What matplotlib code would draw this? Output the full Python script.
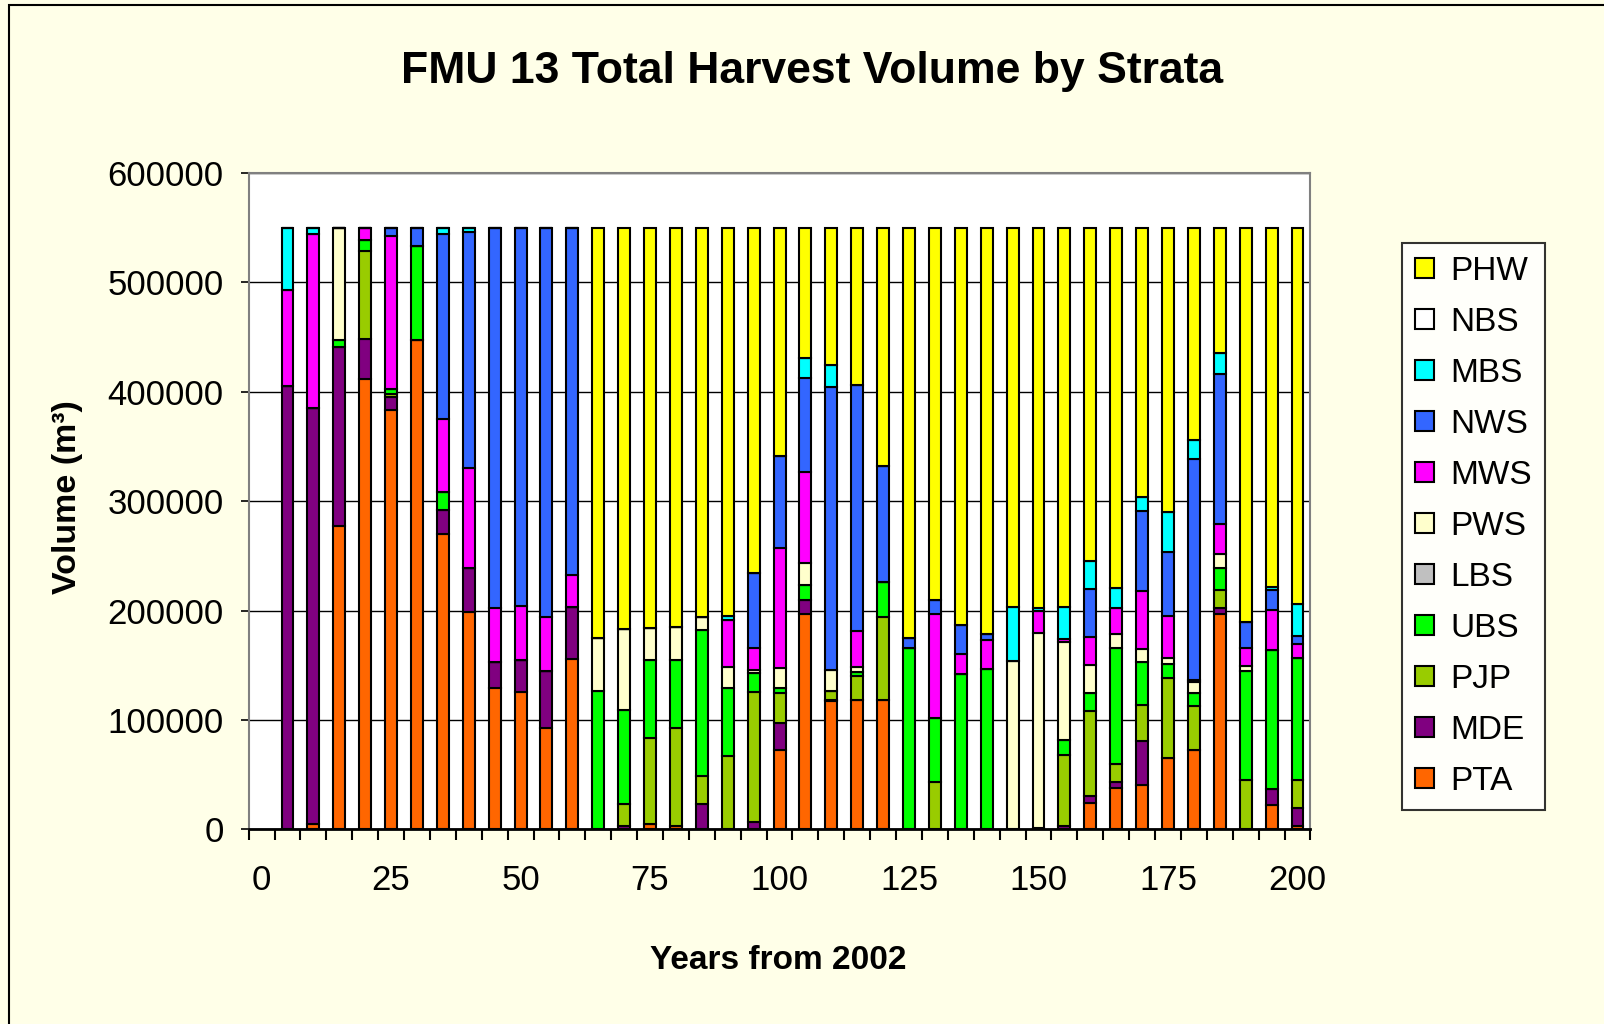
import matplotlib
matplotlib.use("Agg")
import matplotlib.pyplot as plt
from matplotlib.patches import Patch, Rectangle
import numpy as np

plt.rcParams['font.family'] = ['Liberation Sans', 'DejaVu Sans']

years = [5, 10, 15, 20, 25, 30, 35, 40, 45, 50, 55, 60, 65, 70, 75, 80, 85, 90, 95, 100,
         105, 110, 115, 120, 125, 130, 135, 140, 145, 150, 155, 160, 165, 170, 175, 180, 185, 190, 195, 200]

PTA = [0, 5000, 277000, 412000, 383000, 447000, 270000, 199000, 129000, 126000, 93000, 156000, 0, 0, 5000, 3000, 0, 0, 0, 73000,
       197000, 117000, 118000, 118000, 0, 0, 0, 0, 0, 0, 0, 24500, 38000, 41000, 65500, 73000, 197000, 0, 22000, 3500]
MDE = [405000, 380000, 164000, 36000, 12500, 0, 22000, 40000, 24000, 28500, 52000, 47500, 0, 3000, 0, 0, 23000, 0, 6400, 24000,
       13000, 1000, 0, 0, 0, 0, 0, 0, 0, 1500, 3000, 6000, 5600, 40000, 0, 0, 5600, 0, 15000, 16000]
PJP = [0, 0, 0, 80500, 2800, 0, 0, 0, 0, 0, 0, 0, 0, 20000, 78500, 90000, 25500, 66700, 119500, 28000,
       0, 8800, 22000, 76500, 0, 43500, 0, 0, 0, 0, 65500, 78000, 16500, 32500, 73000, 40000, 16500, 45500, 0, 25700]
UBS = [0, 0, 6000, 10000, 4000, 86000, 16000, 0, 0, 0, 0, 0, 127000, 86000, 71000, 61500, 134000, 62500, 17300, 4000,
       13000, 0, 3600, 31700, 166000, 58300, 142300, 147000, 0, 0, 13000, 16000, 106000, 40000, 13000, 12000, 20000, 99700, 127400, 111800]
LBS = [0] * 40
PWS = [0, 0, 102600, 0, 0, 0, 0, 0, 0, 0, 0, 0, 48000, 74400, 29700, 31000, 12000, 19000, 2800, 19000,
       20500, 18500, 5200, 0, 0, 0, 0, 0, 154400, 178500, 89700, 26200, 12500, 11600, 4800, 10000, 13000, 4000, 0, 0]
MWS = [88000, 159000, 0, 11000, 140000, 0, 67500, 91000, 49000, 49500, 49500, 29500, 0, 0, 0, 0, 0, 43500, 20000, 109000,
       83000, 0, 33000, 0, 0, 95000, 18000, 26000, 0, 20000, 3200, 25300, 23700, 52700, 38600, 1500, 27300, 17000, 36600, 12800]
NWS = [0, 0, 0, 0, 7700, 17000, 169000, 216000, 348000, 346000, 355000, 317000, 0, 0, 0, 0, 0, 0, 68800, 84400,
       86500, 259000, 224300, 105800, 9300, 12800, 27000, 5200, 0, 0, 0, 44200, 0, 73200, 59100, 201800, 136700, 23300, 18100, 7300]
MBS = [57000, 6000, 0, 0, 0, 0, 5700, 4000, 0, 0, 0, 0, 0, 0, 0, 0, 0, 3200, 0, 0,
       18000, 20500, 0, 0, 0, 0, 0, 0, 49000, 2800, 29000, 25000, 18500, 12800, 36000, 17300, 19000, 0, 2800, 29000]
NBS = [0] * 40
PHW = [0, 0, 0, 0, 0, 0, 0, 0, 0, 0, 0, 0, 375000, 366600, 365800, 364500, 355500, 355100, 315200, 208600,
       119000, 125200, 143900, 218000, 374700, 340400, 362700, 371800, 346600, 347200, 346600, 304800, 329200, 246200, 260000, 194400, 114900, 360500, 328100, 343900]

series_names = ['PTA', 'MDE', 'PJP', 'UBS', 'LBS', 'PWS', 'MWS', 'NWS', 'MBS', 'NBS', 'PHW']
series_vals = [PTA, MDE, PJP, UBS, LBS, PWS, MWS, NWS, MBS, NBS, PHW]
colors = ['#FF6600', '#800080', '#99CC00', '#00FF00', '#C0C0C0', '#FFFFCC',
          '#FF00FF', '#3366FF', '#00FFFF', '#FFFFFF', '#FFFF00']

x_labels = ['0', '25', '50', '75', '100', '125', '150', '175', '200']

bg = '#FFFFE8'
fig = plt.figure(figsize=(16.04, 10.24), dpi=100, facecolor=bg)
ax = fig.add_axes([0.155, 0.190, 0.662, 0.641])
ax.set_facecolor('white')

x = np.array(years, dtype=float)
bottom = np.zeros(len(years))
for name, vals, c in zip(series_names, series_vals, colors):
    v = np.array(vals, dtype=float)
    ax.bar(x, v, width=2.3, bottom=bottom, color=c, edgecolor='black', linewidth=1.5, zorder=3)
    bottom += v

ax.set_xlim(-2.5, 202.5)
ax.set_ylim(0, 600000)
ax.set_yticks(np.arange(0, 600001, 100000))
ax.set_yticklabels([str(v) for v in range(0, 600001, 100000)], fontsize=25)
ax.yaxis.grid(True, color='black', linewidth=1.0, zorder=0)
ax.set_axisbelow(True)

ax.set_xticks(np.arange(0, 201, 25))
ax.set_xticklabels(x_labels, fontsize=25)
ax.set_xticks(np.arange(-2.5, 203, 5), minor=True)
ax.tick_params(axis='x', which='major', length=0, pad=25)
ax.tick_params(axis='x', which='minor', length=8, width=1.5, direction='out', color='black')
ax.tick_params(axis='y', which='major', length=6, width=1.2, direction='out', pad=12)

for s in ['top', 'right']:
    ax.spines[s].set_color('#808080')
    ax.spines[s].set_linewidth(1.5)
ax.spines['left'].set_color('#808080')
ax.spines['left'].set_linewidth(1.5)
ax.spines['bottom'].set_color('black')
ax.spines['bottom'].set_linewidth(2)

fig.text(0.506, 0.930, 'FMU 13 Total Harvest Volume by Strata', fontsize=32, fontweight='bold',
         ha='center', va='center')
fig.text(0.485, 0.062, 'Years from 2002', fontsize=24, fontweight='bold', ha='center', va='center')
fig.text(0.042, 0.515, 'Volume (m³)', fontsize=24.5, fontweight='bold', ha='center', va='center', rotation=90)

handles = [Patch(facecolor=c, edgecolor='black', linewidth=1.5) for c in colors][::-1]
labels = series_names[::-1]
leg = fig.legend(handles, labels, loc='upper left', bbox_to_anchor=(0.874, 0.763),
                 fontsize=24, frameon=True, fancybox=False, edgecolor='black',
                 handlelength=0.55, handleheight=0.55, handletextpad=0.5,
                 labelspacing=0.6, borderpad=0.4, borderaxespad=0)
leg.get_frame().set_linewidth(1.5)
leg.get_frame().set_facecolor('white')

fig.patches.append(Rectangle((0.0055, -0.01), 1.0, 1.005, transform=fig.transFigure,
                             fill=False, edgecolor='black', linewidth=1.5))

fig.savefig('out.png', dpi=100, facecolor=bg)
